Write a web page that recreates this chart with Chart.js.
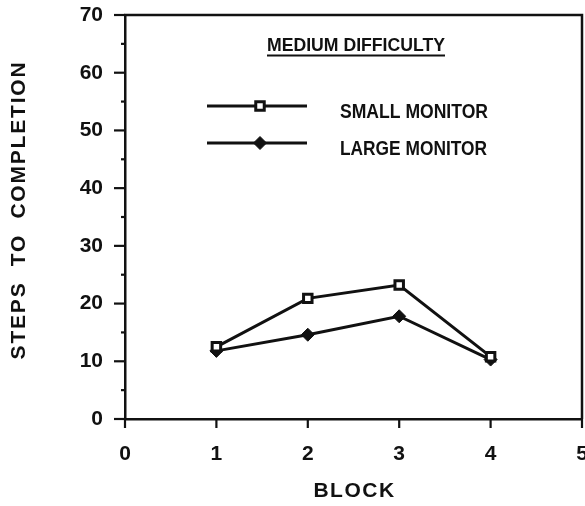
<!DOCTYPE html>
<html>
<head>
<meta charset="utf-8">
<style>
  html, body { margin: 0; padding: 0; background: #fff; }
  #wrap { width: 585px; height: 506px; }
</style>
<script src="https://cdn.jsdelivr.net/npm/chart.js@4.4.1/dist/chart.umd.min.js"></script>
</head>
<body>
<div id="wrap"><canvas id="chart" width="585" height="506"></canvas></div>
<script>
// Steps to completion per block, medium difficulty condition
const blocks = [1, 2, 3, 4];
const smallMonitor = [12.5, 20.9, 23.2, 10.8];
const largeMonitor = [11.8, 14.6, 17.8, 10.3];
const xTickValues = [0, 1, 2, 3, 4, 5];
const yTickValues = [0, 10, 20, 30, 40, 50, 60, 70];
const panelTitle = 'MEDIUM DIFFICULTY';
const seriesNames = ['SMALL MONITOR', 'LARGE MONITOR'];
const xAxisTitle = 'BLOCK';
const yAxisTitle = 'STEPS  TO  COMPLETION';

const INK = '#111';
const narrowFont = '"Liberation Sans Narrow", "Liberation Sans", Arial, sans-serif';
const boldFont = '"Liberation Sans", Arial, Helvetica, sans-serif';

// Draw text squeezed horizontally to a given width
function fitText(ctx, text, x, y, width, font) {
  ctx.save();
  ctx.font = font;
  const w = ctx.measureText(text).width;
  ctx.translate(x, y);
  ctx.scale(width / w, 1);
  ctx.fillText(text, 0, 0);
  ctx.restore();
}

const framePlugin = {
  id: 'frame',
  afterDraw(chart) {
    const { ctx, chartArea: a, scales } = chart;
    const xs = scales.x, ys = scales.y;
    ctx.save();
    ctx.strokeStyle = INK;
    ctx.lineCap = 'butt';

    // top and right edges of the box
    ctx.lineWidth = 2.5;
    ctx.beginPath();
    ctx.moveTo(a.left - 1, a.top);
    ctx.lineTo(a.right, a.top);
    ctx.lineTo(a.right, a.bottom);
    ctx.stroke();

    // y tick marks: long at labelled values, short between
    ys.ticks.forEach(t => {
      const py = ys.getPixelForValue(t.value);
      const major = t.value % 10 === 0;
      ctx.lineWidth = 2.2;
      ctx.beginPath();
      ctx.moveTo(a.left, py);
      ctx.lineTo(a.left - (major ? 11 : 4), py);
      ctx.stroke();
    });
    // x tick marks pointing down
    xs.ticks.forEach(t => {
      const px = xs.getPixelForValue(t.value);
      ctx.lineWidth = 2.2;
      ctx.beginPath();
      ctx.moveTo(px, a.bottom);
      ctx.lineTo(px, a.bottom + 9);
      ctx.stroke();
    });

    // axis titles, letter-spaced
    ctx.fillStyle = INK;
    ctx.font = 'bold 21px ' + boldFont;
    ctx.letterSpacing = '1.5px';
    ctx.textAlign = 'center';
    ctx.textBaseline = 'middle';
    ctx.fillText(xAxisTitle, (a.left + a.right) / 2 + 1, 491);
    ctx.save();
    ctx.translate(19, 210);
    ctx.rotate(-Math.PI / 2);
    ctx.letterSpacing = '1.8px';
    ctx.fillText(yAxisTitle, 0, 0);
    ctx.restore();
    ctx.letterSpacing = '0px';

    // panel heading, underlined
    ctx.textBaseline = 'alphabetic';
    ctx.textAlign = 'left';
    fitText(ctx, panelTitle, 267, 51, 178, 'bold 19px ' + narrowFont);
    ctx.lineWidth = 2;
    ctx.beginPath();
    ctx.moveTo(267, 55.5);
    ctx.lineTo(445, 55.5);
    ctx.stroke();

    // legend rows
    const rows = [
      { y: 106, ds: chart.data.datasets[0], text: seriesNames[0], textY: 118, w: 148 },
      { y: 143, ds: chart.data.datasets[1], text: seriesNames[1], textY: 155, w: 147 }
    ];
    rows.forEach(r => {
      ctx.lineWidth = 3;
      ctx.strokeStyle = INK;
      ctx.beginPath();
      ctx.moveTo(207, r.y);
      ctx.lineTo(307, r.y);
      ctx.stroke();
      ctx.fillStyle = r.ds.pointBackgroundColor;
      ctx.strokeStyle = INK;
      ctx.lineWidth = r.ds.pointBorderWidth;
      Chart.helpers.drawPoint(ctx, {
        pointStyle: r.ds.pointStyle,
        radius: r.ds.pointRadius,
        borderWidth: r.ds.pointBorderWidth,
        rotation: 0
      }, 260, r.y);
      ctx.fillStyle = INK;
      fitText(ctx, r.text, 340, r.textY, r.w, 'bold 21px ' + narrowFont);
    });
    ctx.restore();
  }
};

const toPoints = vals => blocks.map((b, i) => ({ x: b, y: vals[i] }));

new Chart(document.getElementById('chart'), {
  type: 'line',
  data: {
    datasets: [
      {
        label: seriesNames[0],
        data: toPoints(smallMonitor),
        borderColor: INK,
        borderWidth: 3,
        pointStyle: 'rect',
        pointRadius: 6,
        pointBorderWidth: 3,
        pointBorderColor: INK,
        pointBackgroundColor: '#fff',
        tension: 0
      },
      {
        label: seriesNames[1],
        data: toPoints(largeMonitor),
        borderColor: INK,
        borderWidth: 3,
        pointStyle: 'rectRot',
        pointRadius: 6.5,
        pointBorderWidth: 1,
        pointBorderColor: INK,
        pointBackgroundColor: INK,
        tension: 0
      }
    ]
  },
  options: {
    responsive: false,
    animation: false,
    layout: { autoPadding: false, padding: { top: 15, right: 3, left: 0, bottom: 0 } },
    plugins: { legend: { display: false }, tooltip: { enabled: false } },
    scales: {
      x: {
        type: 'linear',
        min: xTickValues[0],
        max: xTickValues[xTickValues.length - 1],
        afterBuildTicks: s => { s.ticks = xTickValues.map(v => ({ value: v })); },
        afterFit: s => { s.height = 87; s.paddingLeft = 0; s.paddingRight = 0; },
        grid: { display: true, drawOnChartArea: false, drawTicks: false },
        border: { display: true, color: INK, width: 2.5 },
        ticks: {
          padding: 23,
          color: INK,
          font: { family: boldFont, size: 21, weight: 'bold' }
        }
      },
      y: {
        min: 0,
        max: 70,
        ticks: {
          stepSize: 5,
          padding: 22,
          color: INK,
          font: { family: boldFont, size: 21, weight: 'bold' },
          callback: v => (yTickValues.includes(v) ? String(v) : '')
        },
        afterFit: s => { s.width = 125; s.paddingTop = 0; s.paddingBottom = 0; },
        grid: { display: true, drawOnChartArea: false, drawTicks: false },
        border: { display: true, color: INK, width: 2.5 }
      }
    }
  },
  plugins: [framePlugin]
});
</script>
</body>
</html>
